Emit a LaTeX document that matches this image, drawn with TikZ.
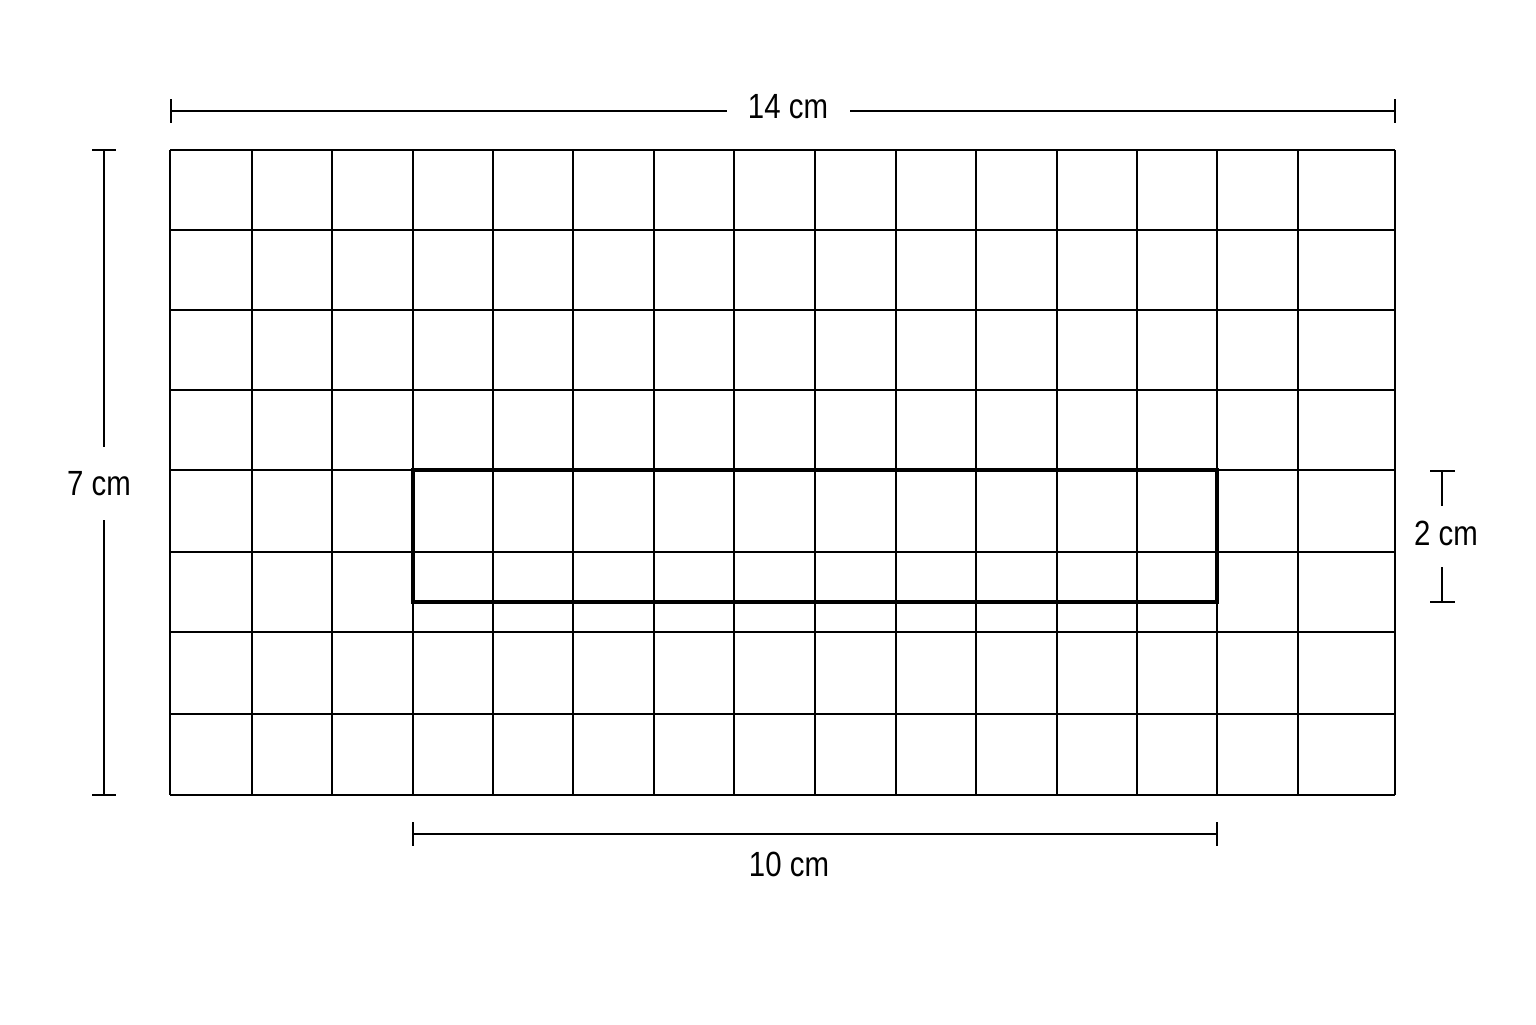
\documentclass[tikz,border=0pt]{standalone}
\usepackage{fontspec}
\setmainfont{Liberation Sans}
\begin{document}
\begin{tikzpicture}[x=0.5pt,y=-0.5pt,
  gridline/.style={line width=1pt,black},
  boldbox/.style={line width=2pt,black},
  dimline/.style={line width=1pt,black},
  dimlabel/.style={inner sep=0pt,font=\fontsize{17.5pt}{20pt}\selectfont}]
\useasboundingbox (0,0) rectangle (1536,1024);
\fill[white] (0,0) rectangle (1536,1024);
% grid
\foreach \x in {170,252,332,413,493,573,654,734,815,896,976,1057,1137,1217,1298,1395}
  \draw[gridline] (\x,150) -- (\x,795);
\foreach \y in {150,230,310,390,470,552,632,714,795}
  \draw[gridline] (170,\y) -- (1395,\y);
% bold rectangle
\draw[boldbox] (413,470) rectangle (1217,602);
% labels
\node[dimlabel] (t14) at (788,107) {\scalebox{0.84}[1]{14 cm}};
\node[dimlabel] (t7) at (99,484) {\scalebox{0.84}[1]{7 cm}};
\node[dimlabel] (t10) at (789,864) {\scalebox{0.84}[1]{10 cm}};
\node[dimlabel] (t2) at (1446,533) {\scalebox{0.84}[1]{2 cm}};
% top dimension
\coordinate (tl) at (171,111); \coordinate (tr) at (1395,111);
\coordinate (tgl) at (727,111); \coordinate (tgr) at (850,111);
\draw[dimline] (tl) -- (tgl);
\draw[dimline] (tgr) -- (tr);
\draw[dimline] (171,99) -- (171,123);
\draw[dimline] (1395,99) -- (1395,123);
% left dimension
\coordinate (lt) at (104,150); \coordinate (lb) at (104,795);
\coordinate (lgt) at (104,447); \coordinate (lgb) at (104,520);
\draw[dimline] (lt) -- (lgt);
\draw[dimline] (lgb) -- (lb);
\draw[dimline] (92,150) -- (116,150);
\draw[dimline] (92,795) -- (116,795);
% bottom dimension
\coordinate (bl) at (413,834); \coordinate (br) at (1217,834);
\draw[dimline] (bl) -- (br);
\draw[dimline] (413,822) -- (413,846);
\draw[dimline] (1217,822) -- (1217,846);
% right dimension
\coordinate (rt) at (1442,471); \coordinate (rb) at (1442,602);
\coordinate (rgt) at (1442,506); \coordinate (rgb) at (1442,567);
\draw[dimline] (rt) -- (rgt);
\draw[dimline] (rgb) -- (rb);
\draw[dimline] (1430,471) -- (1455,471);
\draw[dimline] (1430,602) -- (1455,602);
\end{tikzpicture}
\end{document}
